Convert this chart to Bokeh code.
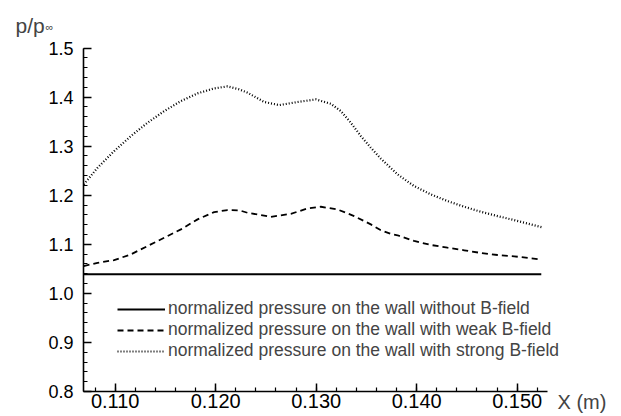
from bokeh.plotting import figure
from bokeh.models import (Range1d, FixedTicker, Legend, LegendItem, Label)
from bokeh.embed import file_html
from bokeh.resources import INLINE

# ---- data ----
x_none = [0.1069, 0.1524]
p_none = [1.039, 1.039]

x_weak = [0.10686, 0.10825, 0.1099, 0.11156, 0.11322, 0.11488, 0.11654, 0.1182,
          0.11985, 0.12118, 0.1224, 0.12317, 0.12549, 0.12748, 0.12914, 0.13047,
          0.13213, 0.13378, 0.13544, 0.1364, 0.1374, 0.1381, 0.13975, 0.14141,
          0.14307, 0.14473, 0.14639, 0.14805, 0.1497, 0.15219]
p_weak = [1.0556, 1.0623, 1.0678, 1.0794, 1.0964, 1.1133, 1.1304, 1.1508,
          1.1656, 1.1697, 1.169, 1.1642, 1.156, 1.1621, 1.173, 1.1765,
          1.171, 1.1575, 1.1406, 1.129, 1.1214, 1.1184, 1.1068, 1.0986,
          1.0931, 1.0878, 1.0823, 1.0782, 1.0755, 1.0694]

x_strong = [0.10688, 0.10825, 0.1099, 0.11156, 0.11322, 0.11488, 0.11654, 0.1182,
            0.11985, 0.12118, 0.1223, 0.12317, 0.12483, 0.12632, 0.12815, 0.12997,
            0.13146, 0.13246, 0.13345, 0.13445, 0.13544, 0.13644, 0.1381, 0.13975,
            0.14141, 0.14307, 0.14473, 0.14639, 0.14805, 0.1497, 0.15136, 0.15243]
p_strong = [1.222, 1.256, 1.290, 1.3205, 1.3476, 1.3715, 1.3918, 1.4075,
            1.4177, 1.4218, 1.416, 1.409, 1.390, 1.3837, 1.390, 1.3953,
            1.3863, 1.3715, 1.3476, 1.3205, 1.2967, 1.2745, 1.2425, 1.2186,
            1.2017, 1.1881, 1.1765, 1.1663, 1.1575, 1.1493, 1.1406, 1.135]

x_ticks = [0.110, 0.120, 0.130, 0.140, 0.150]
x_tick_labels = ["0.110", "0.120", "0.130", "0.140", "0.150"]
y_ticks = [0.8, 0.9, 1.0, 1.1, 1.2, 1.3, 1.4, 1.5]
y_tick_labels = ["0.8", "0.9", "1.0", "1.1", "1.2", "1.3", "1.4", "1.5"]
x_minor = [round(0.108 + 0.002 * i, 3) for i in range(23)]
y_minor = [round(0.8 + 0.02 * i, 2) for i in range(36)]

labels = ["normalized pressure on the wall without B-field",
          "normalized pressure on the wall with weak B-field",
          "normalized pressure on the wall with strong B-field"]

FONT = "Liberation Sans"
X_MIN, X_MAX = 0.10685, 0.15305      # extent of the drawn x axis
Y_MIN, Y_MAX = 0.8, 1.5               # extent of the drawn y axis
W, H = 621, 416
PX_X = 10050.0                        # pixels per x unit
PX_Y = 490.7                          # pixels per y unit
AX_LEFT, AX_BOTTOM = 83, 391          # axis position in canvas pixels

# the frame covers the whole canvas; axes are pinned at the data origin
x0 = X_MIN - AX_LEFT / PX_X
x1 = X_MIN + (W - AX_LEFT) / PX_X
y0 = Y_MIN - (H - AX_BOTTOM) / PX_Y
y1 = Y_MIN + AX_BOTTOM / PX_Y

p = figure(width=W, height=H, output_backend="svg", toolbar_location=None,
           x_range=Range1d(x0, x1), y_range=Range1d(y0, y1), min_border=0)
p.outline_line_color = None
p.grid.visible = False
p.background_fill_color = "white"
p.border_fill_color = "white"

r1 = p.line(x_none, p_none, line_color="black", line_width=2)
r2 = p.line(x_weak, p_weak, line_color="black", line_width=1.8, line_dash="6 4")
r3 = p.line(x_strong, p_strong, line_color="black", line_width=2.2, line_dash="1 2")

for ax in (p.xaxis[0], p.yaxis[0]):
    ax.axis_line_width = 1.6
    ax.axis_line_color = "black"
    ax.major_tick_in = 8
    ax.major_tick_out = 0
    ax.minor_tick_in = 4
    ax.minor_tick_out = 0
    ax.major_tick_line_width = 1.5
    ax.minor_tick_line_width = 1.2
    ax.major_label_text_font = FONT
    ax.major_label_text_color = "black"

p.xaxis[0].fixed_location = Y_MIN
p.xaxis[0].bounds = (X_MIN, X_MAX)
p.xaxis[0].ticker = FixedTicker(ticks=x_ticks, minor_ticks=x_minor)
p.xaxis[0].major_label_overrides = {t: l for t, l in zip(x_ticks, x_tick_labels)}
p.xaxis[0].major_label_text_font_size = "20px"
p.xaxis[0].major_label_standoff = 2

p.yaxis[0].fixed_location = X_MIN
p.yaxis[0].bounds = (Y_MIN, Y_MAX)
p.yaxis[0].ticker = FixedTicker(ticks=y_ticks, minor_ticks=y_minor)
p.yaxis[0].major_label_overrides = {t: l for t, l in zip(y_ticks, y_tick_labels)}
p.yaxis[0].major_label_text_font_size = "18px"
p.yaxis[0].major_label_standoff = 10

legend = Legend(items=[LegendItem(label=labels[0], renderers=[r1]),
                       LegendItem(label=labels[1], renderers=[r2]),
                       LegendItem(label=labels[2], renderers=[r3])],
                location=(AX_LEFT + 34, H - AX_BOTTOM + 30), orientation="vertical",
                border_line_color=None, background_fill_alpha=0,
                padding=0, margin=0, spacing=0,
                glyph_width=48, glyph_height=18, label_height=18,
                label_standoff=3, label_text_font=FONT,
                label_text_font_size="17.5px")
p.add_layout(legend, "center")

p.add_layout(Label(x=15, y=H - 25, x_units="screen", y_units="screen", text="p/p",
                   text_font=FONT, text_font_size="21px", text_baseline="alphabetic"))
p.add_layout(Label(x=45, y=H - 26, x_units="screen", y_units="screen", text="∞",
                   text_font=FONT, text_font_size="11px", text_baseline="middle"))
p.add_layout(Label(x=557, y=H - 401, x_units="screen", y_units="screen", text="X (m)",
                   text_font=FONT, text_font_size="20px", text_baseline="middle"))

open("out.html", "w").write(file_html(p, INLINE))
